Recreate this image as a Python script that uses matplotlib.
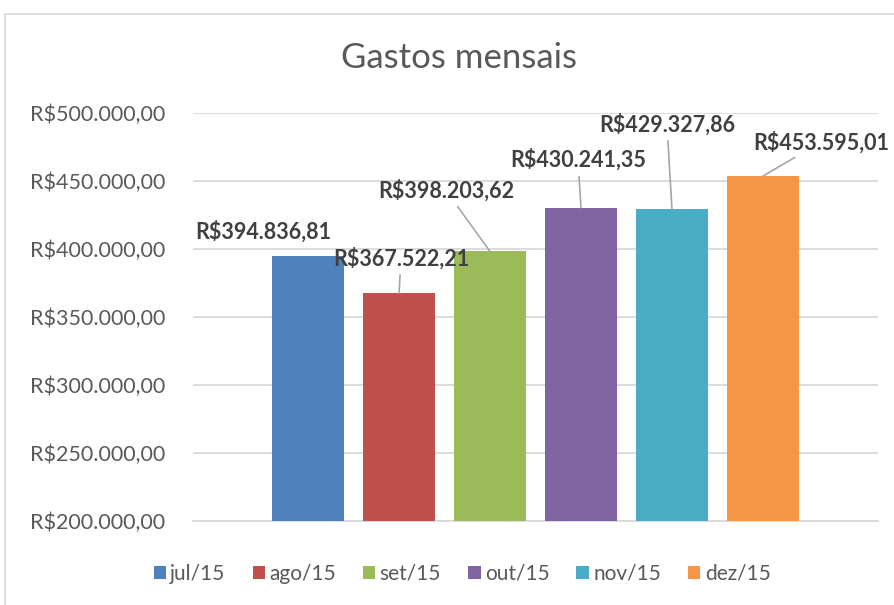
import matplotlib
matplotlib.use("Agg")
import matplotlib.pyplot as plt
from matplotlib.patches import Rectangle
from matplotlib.ticker import FuncFormatter

months = ["jul/15", "ago/15", "set/15", "out/15", "nov/15", "dez/15"]
values = [394836.81, 367522.21, 398203.62, 430241.35, 429327.86, 453595.01]
colors = ["#4F81BD", "#C0504D", "#9BBB59", "#8064A2", "#4BACC6", "#F79646"]

# label offsets in pixels from bar top (dx, dy) and whether leader line drawn
label_offsets = [(-45, 24), (2, 35), (-44, 61), (-3, 48), (-5, 85), (58, 34)]
leader = [False, True, True, True, True, True]

plt.rcParams['font.family'] = ['Lato', 'DejaVu Sans']

W, H = 894, 605
fig = plt.figure(figsize=(W / 100, H / 100), dpi=100)
ax = fig.add_axes([193 / W, 1 - 521 / H, (878 - 193) / W, (521 - 113) / H])

# chart border
fig.patches.append(Rectangle((5 / W, -0.1), 1.2, 1 - 14 / H + 0.1, transform=fig.transFigure,
                             fill=False, edgecolor="#D9D9D9", linewidth=1.3))


def brl(v, pos=None):
    s = f"{v:,.2f}"
    s = s.replace(",", "X").replace(".", ",").replace("X", ".")
    return "R$" + s


for i, (m, v, c) in enumerate(zip(months, values, colors)):
    ax.bar(i, v, width=0.79, color=c, label=m, zorder=3)

ax.set_ylim(200000, 500000)
ax.set_xlim(-1.265, 6.265)
ax.set_yticks(range(200000, 500001, 50000))
ax.yaxis.set_major_formatter(FuncFormatter(brl))
ax.set_xticks([])
ax.grid(axis="y", color="#D9D9D9", linewidth=1.3, zorder=0)
for s in ["top", "right", "left"]:
    ax.spines[s].set_visible(False)
ax.spines["bottom"].set_color("#D9D9D9")
ax.spines["bottom"].set_linewidth(1.3)
ax.tick_params(axis="y", length=0, pad=20, labelsize=15.5, labelcolor="#595959")

for i, v in enumerate(values):
    dx, dy = label_offsets[i]
    ap = dict(arrowstyle="-", color="#A6A6A6", lw=1.2, shrinkA=2, shrinkB=0) if leader[i] else None
    ax.annotate(brl(v), xy=(i, v), xytext=(dx, dy), textcoords="offset pixels",
                ha="center", va="center", fontsize=15.5, fontweight="bold", color="#404040",
                arrowprops=ap, zorder=5, annotation_clip=False)

fig.text(459 / W, 1 - 58 / H, "Gastos mensais", ha="center", va="center",
         fontsize=25, color="#595959")

leg = fig.legend(loc="center", bbox_to_anchor=(462 / W, 1 - 574 / H), ncol=6, frameon=False,
                 fontsize=15, labelcolor="#595959", handlelength=0.6, handleheight=0.6,
                 handletextpad=0.2, columnspacing=1.3)

fig.savefig("out.png", dpi=100)
